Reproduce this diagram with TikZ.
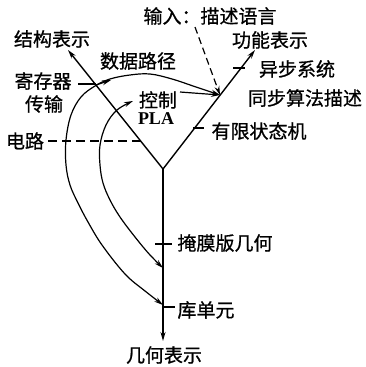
\documentclass[tikz,border=0pt]{standalone}
\usepackage{fontspec}
\setmainfont{Liberation Serif}
\newfontfamily\cjk[FakeBold=0.8]{Noto Sans CJK SC}
\usetikzlibrary{arrows.meta}
\tikzset{
  axisline/.style={line width=1.4pt, -{Stealth[length=9pt,width=5pt]}},
  curveline/.style={line width=1.2pt},
  tipend/.style={-{Stealth[length=9pt,width=5pt]}},
  bothtips/.style={{Stealth[length=9pt,width=5pt]}-{Stealth[length=9pt,width=5pt]}},
  tickline/.style={line width=1.2pt},
  dashline/.style={line width=1.2pt, dash pattern=on 9pt off 5pt},
  lbl/.style={font={\cjk\fontsize{19}{22}\selectfont}, inner sep=0pt},
  pla/.style={font={\bfseries\fontsize{18}{20}\selectfont}, inner sep=0pt}
}
\begin{document}
\begin{tikzpicture}[x=1pt,y=-1pt]
\useasboundingbox (0,0) rectangle (366,367);
% axes
\coordinate (O) at (163,169);
\coordinate (L) at (68,50);
\coordinate (R) at (255,50);
\coordinate (B) at (163,341);
\draw[axisline] (O) -- (L);
\draw[axisline] (O) -- (R);
\draw[axisline] (O) -- (B);
% labels
\node[lbl] (in) at (210,16) {输入：描述语言};
\node[lbl] (struct) at (52,39) {结构表示};
\node[lbl] (dp) at (138,61) {数据路径};
\node[lbl] (func) at (270,40) {功能表示};
\node[lbl] (async) at (297,69) {异步系统};
\node[lbl] (sync) at (305,98) {同步算法描述};
\node[lbl] (fsm) at (259,131) {有限状态机};
\node[lbl] (reg) at (43,81) {寄存器};
\node[lbl] (rt) at (44,104) {传输};
\node[lbl] (ctl) at (158,100) {控制};
\node[pla] (plalbl) at (156,119) {PLA};
\node[lbl] (circ) at (25,141) {电路};
\node[lbl] (mask) at (225,243) {掩膜版几何};
\node[lbl] (lib) at (206,310) {库单元};
\node[lbl] (geo) at (164,355) {几何表示};
% ticks
\coordinate (t1a) at (78,84);  \coordinate (t1b) at (96,84);
\coordinate (t2a) at (233,68); \coordinate (t2b) at (245,68);
\coordinate (t3a) at (193,128);\coordinate (t3b) at (204,128);
\coordinate (t4a) at (155,244);\coordinate (t4b) at (172,244);
\coordinate (t5a) at (163,307);\coordinate (t5b) at (175,307);
\draw[tickline] (t1a) -- (t1b);
\draw[tickline] (t2a) -- (t2b);
\draw[tickline] (t3a) -- (t3b);
\draw[tickline] (t4a) -- (t4b);
\draw[tickline] (t5a) -- (t5b);
% dashed lines
\coordinate (inS) at (195,27);
\coordinate (Rin) at (220,95);
\draw[dashline, dash pattern=on 7pt off 4pt, tipend] (inS) -- (Rin);
\coordinate (cS) at (48,141);
\coordinate (cE) at (141,141);
\draw[dashline] (cS) -- (cE);
% outer curve
\draw[curveline, bothtips] plot[smooth, tension=0.6] coordinates {(163,305) (145,291) (125,274) (102,245) (88,222) (78,203) (70,185) (66,165) (66,140) (71,115) (81,97) (95,86) (110,79) (130,75) (150,74) (172,79) (196,87) (220,95)};
\coordinate (m1a) at (96,85);
\coordinate (m1b) at (111,80);
\draw[curveline, tipend] (m1a) -- (m1b);
% inner curve
\draw[curveline, bothtips] plot[smooth, tension=0.6] coordinates {(163,268) (150,255) (135,237) (120,217) (110,200) (103,183) (100,165) (100,145) (106,125) (117,110) (133,101)};
% control to behaviour
\coordinate (cc) at (180,92);
\draw[curveline, tipend] (cc) -- (Rin);
\end{tikzpicture}
\end{document}
